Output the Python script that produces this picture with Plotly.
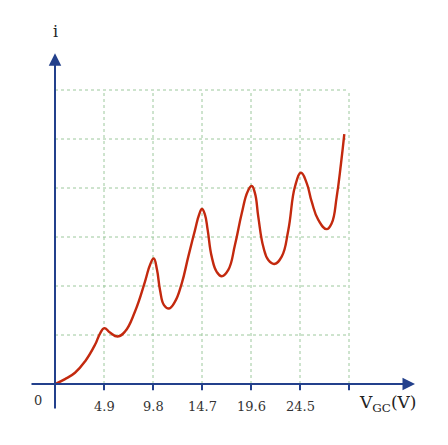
import plotly.graph_objects as go

# Data (voltage in V, current in arbitrary units where one grid step = 1)
volts = [0, 1.0, 2.0, 3.0, 4.0, 4.5, 4.93, 5.5, 6.27, 7.0, 8.0, 9.0, 9.5, 9.87,
         10.2, 10.5, 10.9, 11.4, 12.0, 12.67, 13.33, 14.0, 14.4, 14.7,
         15.0, 15.27, 15.67, 16.17, 16.67, 17.33, 18.0, 18.67, 19.27, 19.67,
         20.0, 20.33, 20.83, 21.33, 21.93, 22.67, 23.33, 24.0, 24.6,
         25.17, 25.67, 26.33, 27.17, 27.67, 28.17, 28.6, 28.93]
current = [0, 0.10, 0.23, 0.46, 0.80, 1.03, 1.14, 1.05, 0.97, 1.07, 1.48, 2.09, 2.43, 2.56,
           2.33, 1.92, 1.61, 1.54, 1.68, 2.05, 2.6, 3.14, 3.45, 3.57,
           3.45, 3.14, 2.6, 2.29, 2.2, 2.33, 2.84, 3.48, 3.93, 4.04,
           3.89, 3.41, 2.8, 2.53, 2.45, 2.6, 3.14, 4.03, 4.31,
           4.10, 3.72, 3.35, 3.16, 3.28, 3.82, 4.5, 5.1]
tick_vals = [4.9, 9.8, 14.7, 19.6, 24.5]
tick_labels = ["4.9", "9.8", "14.7", "19.6", "24.5"]
grid_x = [4.9, 9.8, 14.7, 19.6, 24.5, 29.4]
grid_y = [1, 2, 3, 4, 5, 6]

axis_col = "#23408c"
grid_col = "#9cc89c"
curve_col = "#c3290e"
font_fam = "DejaVu Serif, Liberation Serif, serif"

fig = go.Figure()
fig.add_trace(go.Scatter(x=volts, y=current, mode="lines",
                         line=dict(color=curve_col, width=2.4, shape="spline", smoothing=1.3),
                         hoverinfo="skip", showlegend=False))

shapes = []
xmax_grid = grid_x[-1]
ymax_grid = grid_y[-1]
for gx in grid_x:
    shapes.append(dict(type="line", x0=gx, x1=gx, y0=0, y1=ymax_grid, xref="x", yref="y",
                       line=dict(color=grid_col, width=1, dash="dot"), layer="below"))
for gy in grid_y:
    shapes.append(dict(type="line", x0=0, x1=xmax_grid, y0=gy, y1=gy, xref="x", yref="y",
                       line=dict(color=grid_col, width=1, dash="dot"), layer="below"))
# tick marks
for gx in grid_x:
    shapes.append(dict(type="line", x0=gx, x1=gx, y0=0, y1=-0.13, xref="x", yref="y",
                       line=dict(color=axis_col, width=2)))

annotations = []
# axes with arrows
annotations.append(dict(x=36.0, y=0, ax=-2.5, ay=0, xref="x", yref="y", axref="x", ayref="y",
                        text="", showarrow=True, arrowhead=2, arrowsize=1.25, arrowwidth=2,
                        arrowcolor=axis_col))
annotations.append(dict(x=0, y=6.75, ax=0, ay=-0.53, xref="x", yref="y", axref="x", ayref="y",
                        text="", showarrow=True, arrowhead=2, arrowsize=1.25, arrowwidth=2,
                        arrowcolor=axis_col))
for tv, tl in zip(tick_vals, tick_labels):
    annotations.append(dict(x=tv, y=-0.45, xref="x", yref="y", text=tl, showarrow=False,
                            font=dict(family=font_fam, size=13, color="#333333")))
annotations.append(dict(x=-1.7, y=-0.33, xref="x", yref="y", text="0", showarrow=False,
                        font=dict(family=font_fam, size=13, color="#333333")))
annotations.append(dict(x=0, y=7.2, xref="x", yref="y", text="i", showarrow=False,
                        font=dict(family=font_fam, size=16, color="#222222")))
annotations.append(dict(x=30.2, y=-0.4, xref="x", yref="y", text="V<sub>GC</sub>(V)",
                        showarrow=False, xanchor="left",
                        font=dict(family=font_fam, size=17, color="#222222")))

# page has an 8px body margin; figure pixel = page pixel - 8
W, H = 440, 437
ox, oy = 55 - 8, 384 - 8   # origin in figure pixels
fig.update_layout(
    width=W, height=H,
    margin=dict(l=0, r=0, t=0, b=0),
    paper_bgcolor="white", plot_bgcolor="white",
    xaxis=dict(range=[-ox / 10, (W - ox) / 10], visible=False, fixedrange=True),
    yaxis=dict(range=[(oy - H) / 49, oy / 49], visible=False, fixedrange=True),
    shapes=shapes, annotations=annotations,
)
fig.write_html("out.html")
